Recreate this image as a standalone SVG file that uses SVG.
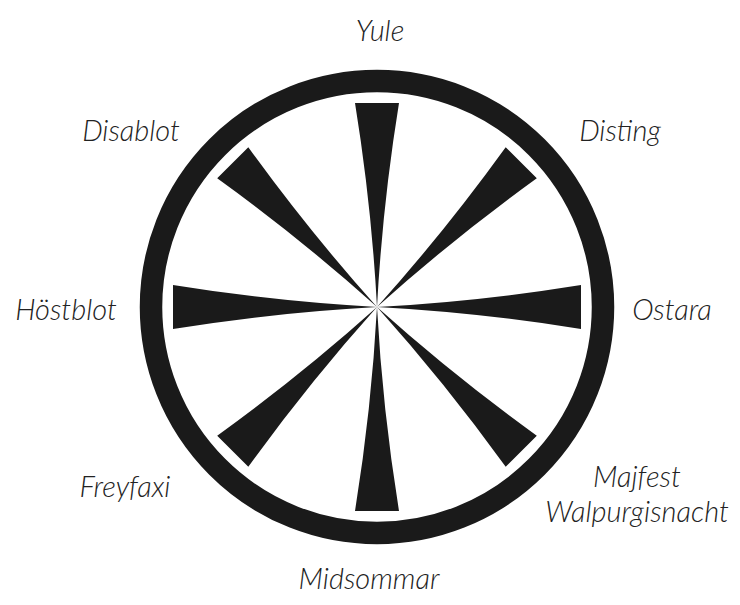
<svg xmlns="http://www.w3.org/2000/svg" xmlns:xlink="http://www.w3.org/1999/xlink" width="740" height="605" viewBox="0 0 740 605">
  <style>
    .lbl { font-family: Lato, "Open Sans", "Liberation Sans", sans-serif; font-style: italic; font-weight: 300; font-size: 29px; fill: #222; text-anchor: middle; }
    .ink { fill: #1a1a1a; }
  </style>
  <defs>
    <path id="spoke" class="ink" d="M0,0 Q5.5,-102 22,-204 L-22,-204 Q-5.5,-102 0,0 Z"/>
  </defs>
  <rect width="740" height="605" fill="#fff"/>
  <g id="wheel">
    <circle cx="377" cy="307" r="226" fill="none" stroke="#1a1a1a" stroke-width="22.5"/>
    <g id="spokes" transform="translate(377,307)">
      <use xlink:href="#spoke"/>
      <use xlink:href="#spoke" transform="rotate(45)"/>
      <use xlink:href="#spoke" transform="rotate(90)"/>
      <use xlink:href="#spoke" transform="rotate(135)"/>
      <use xlink:href="#spoke" transform="rotate(180)"/>
      <use xlink:href="#spoke" transform="rotate(225)"/>
      <use xlink:href="#spoke" transform="rotate(270)"/>
      <use xlink:href="#spoke" transform="rotate(315)"/>
    </g>
  </g>
  <g id="labels">
    <g id="yule"><text class="lbl" x="380" y="41">Yule</text></g>
    <g id="disting"><text class="lbl" x="620" y="141">Disting</text></g>
    <g id="ostara"><text class="lbl" x="672" y="320">Ostara</text></g>
    <g id="majfest"><text class="lbl" x="637" y="487">Majfest</text><text class="lbl" x="637" y="522">Walpurgisnacht</text></g>
    <g id="midsommar"><text class="lbl" x="369" y="589">Midsommar</text></g>
    <g id="freyfaxi"><text class="lbl" x="125" y="497">Freyfaxi</text></g>
    <g id="hostblot"><text class="lbl" x="66" y="320">Höstblot</text></g>
    <g id="disablot"><text class="lbl" x="131" y="141">Disablot</text></g>
  </g>
</svg>
